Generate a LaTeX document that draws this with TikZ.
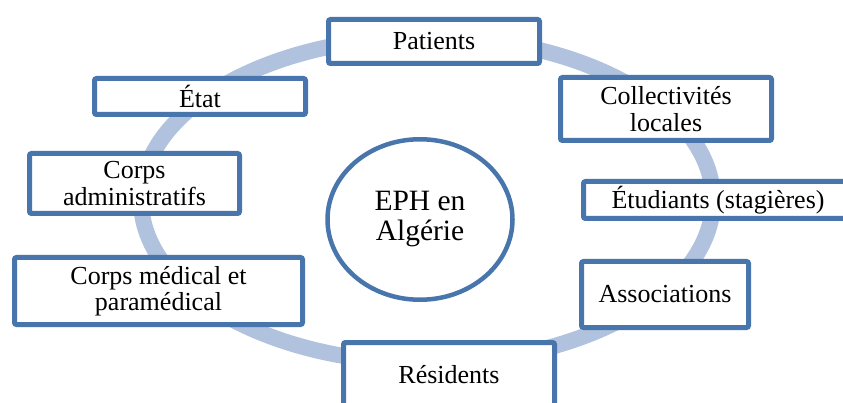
\documentclass[tikz,border=0pt]{standalone}
\usepackage{fontspec}
\setmainfont{Liberation Serif}
\usetikzlibrary{shapes.geometric}
\definecolor{boxblue}{RGB}{72,118,172}
\definecolor{ringblue}{RGB}{176,194,222}
\begin{document}
\begin{tikzpicture}[x=1pt,y=-1pt,
  actor/.style={draw=boxblue, line width=5pt, fill=white, rounded corners=2pt,
    align=center, inner sep=0pt, font=\fontsize{26}{26.5}\selectfont},
  hub/.style={ellipse, draw=boxblue, line width=4.5pt, fill=white,
    align=center, inner sep=0pt, font=\fontsize{29.5}{30}\selectfont}]
\useasboundingbox (0,0) rectangle (843,403);
% surrounding ring
\draw[ringblue, line width=16pt] (427,200) ellipse [x radius=286, y radius=163];
% central node
\node[hub, minimum width=185pt, minimum height=160.5pt] (eph) at (420,219.5) {EPH en\\Algérie};
% stakeholders
\node[actor, minimum width=211pt, minimum height=44pt] (patients) at (434,41.5) {Patients};
\node[actor, minimum width=211pt, minimum height=36pt] (etat) at (200,96.5) {État};
\node[actor, minimum width=210pt, minimum height=60pt] (admin) at (134.5,183.5) {Corps\\administratifs};
\node[actor, minimum width=288pt, minimum height=67pt] (medical) at (158.5,291) {Corps médical et\\paramédical};
\node[actor, minimum width=211pt, minimum height=65pt] (residents) at (449,375) {Résidents};
\node[actor, minimum width=211pt, minimum height=63pt] (collect) at (666,109) {Collectivités\\locales};
\node[actor, minimum width=269pt, minimum height=37pt] (etudiants) at (718,200) {Étudiants (stagières)};
\node[actor, minimum width=167pt, minimum height=66pt] (assoc) at (665,294.5) {Associations};
\end{tikzpicture}
\end{document}
